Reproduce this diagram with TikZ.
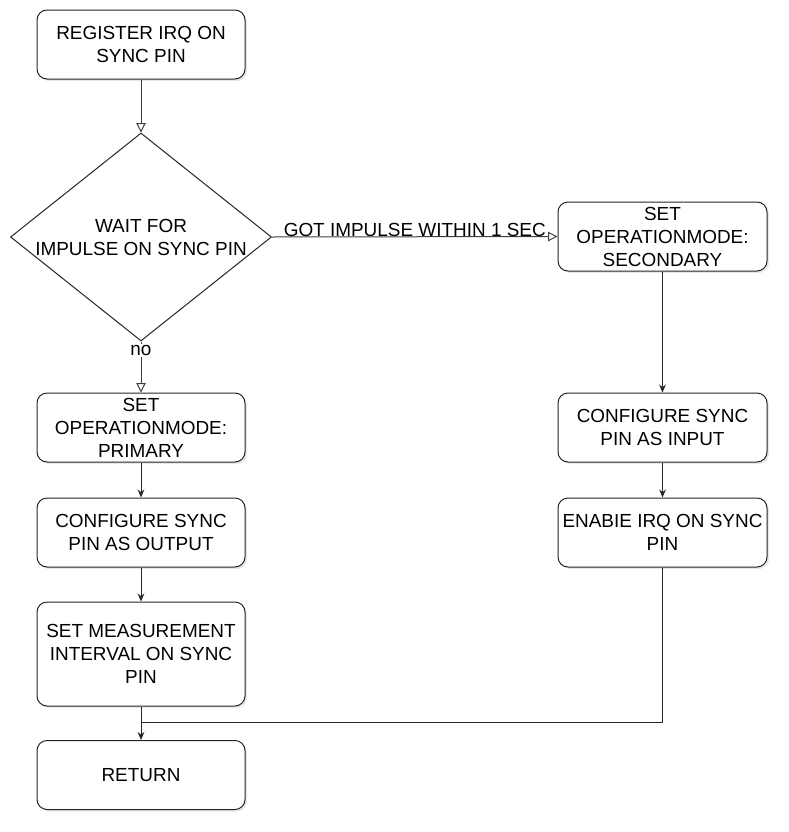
\documentclass[tikz,border=0pt]{standalone}
\usepackage{fontspec}
\setmainfont{Liberation Sans}
\usetikzlibrary{shapes.geometric,arrows.meta,shadows}
\begin{document}
\begin{tikzpicture}[x=0.75pt,y=-0.75pt,
  font=\fontsize{14.2}{17.25}\selectfont,
  box/.style={draw=black!85,line width=0.75pt,rounded corners=7.5pt,fill=white,
    minimum width=156pt,minimum height=51.75pt,align=center,inner sep=1pt,
    drop shadow={opacity=0.18,shadow xshift=1.5pt,shadow yshift=-1.5pt}},
  dec/.style={draw=black!85,line width=0.75pt,diamond,aspect=1.255,inner sep=0pt,
    minimum width=195.75pt,minimum height=156pt,align=center,fill=white},
  openarr/.style={draw=black!75,line width=0.75pt,-{Triangle[open,length=7pt,width=7pt]}},
  fillarr/.style={draw=black!85,line width=0.75pt,-{Stealth[length=6pt,width=5pt]}},
  plain/.style={draw=black!85,line width=0.75pt},
  lbl/.style={font=\fontsize{14.2}{15}\selectfont,inner sep=1pt}
]
\useasboundingbox[fill=white] (0,0) rectangle (789,832);

\node[box] (reg) at (141,44.5) {REGISTER IRQ ON\\SYNC PIN};
\node[dec] (dia) at (141,237) {WAIT FOR\\IMPULSE ON SYNC PIN};
\node[box] (prim) at (141,427.5) {SET\\OPERATIONMODE:\\PRIMARY};
\node[box] (cout) at (141,532.5) {CONFIGURE SYNC\\PIN AS OUTPUT};
\node[box,minimum height=78pt] (meas) at (141,654) {SET MEASUREMENT\\INTERVAL ON SYNC\\PIN};
\node[box] (ret) at (141,775) {RETURN};
\node[box,minimum width=156.75pt] (sec) at (662.5,236.5) {SET\\OPERATIONMODE:\\SECONDARY};
\node[box,minimum width=156.75pt] (cin) at (662.5,427.5) {CONFIGURE SYNC\\PIN AS INPUT};
\node[box,minimum width=156.75pt] (irq) at (662.5,532.5) {ENABIE IRQ ON SYNC\\PIN};

\coordinate (j) at (141,722);

\draw[openarr] (reg.south) -- (dia.north);
\draw[openarr] (dia.east) -- node[lbl,above,yshift=-1pt] (lgot) {GOT IMPULSE WITHIN 1 SEC} (sec.west);
\draw[openarr] (dia.south) -- node[lbl,fill=white,pos=0.17] (lno) {no} (prim.north);
\draw[fillarr] (prim.south) -- (cout.north);
\draw[fillarr] (cout.south) -- (meas.north);
\draw[fillarr] (meas.south) -- (ret.north);
\draw[fillarr] (sec.south) -- (cin.north);
\draw[fillarr] (cin.south) -- (irq.north);
\draw[plain] (irq.south) |- (j);
\end{tikzpicture}
\end{document}
